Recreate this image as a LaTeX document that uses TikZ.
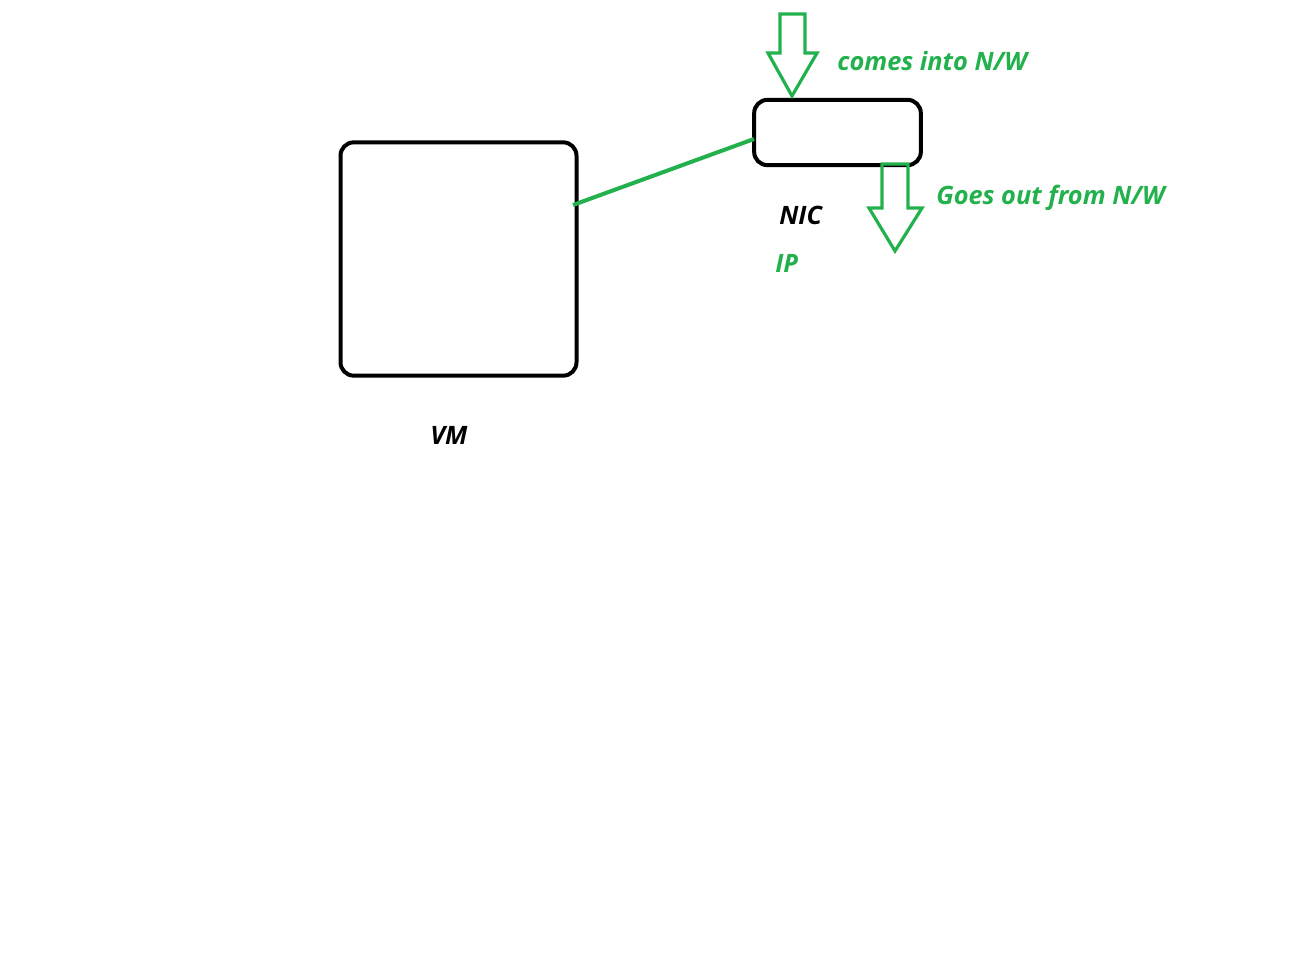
\documentclass[tikz,border=0pt]{standalone}
\usepackage{fontspec}
\setmainfont{Open Sans}
\definecolor{pgreen}{RGB}{34,177,76}
\begin{document}
\begin{tikzpicture}[x=0.75pt,y=-0.75pt,
  box/.style={draw=black,line width=3pt,rounded corners=10pt,inner sep=0pt},
  lbl/.style={font=\fontsize{19}{22}\selectfont\bfseries\itshape,inner sep=0pt,anchor=west},
  blockarrow/.style={draw=pgreen,line width=2.4pt,line join=miter}]
\useasboundingbox[fill=white] (0,0) rectangle (1300,975);
\node[box,minimum width=177pt,minimum height=175pt] (vm) at (458.5,259) {};
\node[box,minimum width=125pt,minimum height=49pt] (nic) at (837.5,132.5) {};
\coordinate (vmc) at (573,205);
\coordinate (nicc) at (754,139);
\draw[pgreen,line width=3pt] (vmc) -- (nicc);
% incoming block arrow
\draw[blockarrow] (780,14) -- (805,14) -- (805,53) -- (817,53) -- (792,96) -- (768,53) -- (780,53) -- cycle;
% outgoing block arrow
\draw[blockarrow] (882,164) -- (908,164) -- (908,208) -- (922,208) -- (895,251) -- (869,208) -- (882,208) -- cycle;
\node[lbl,text=pgreen] (tin) at (837,61) {comes into N/W};
\node[lbl,text=pgreen] (tout) at (936,198) {Goes out from N/W};
\node[lbl] (tnic) at (779,215) {NIC};
\node[lbl,text=pgreen] (tip) at (775,263) {IP};
\node[lbl] (tvm) at (430,435) {VM};
\end{tikzpicture}
\end{document}
